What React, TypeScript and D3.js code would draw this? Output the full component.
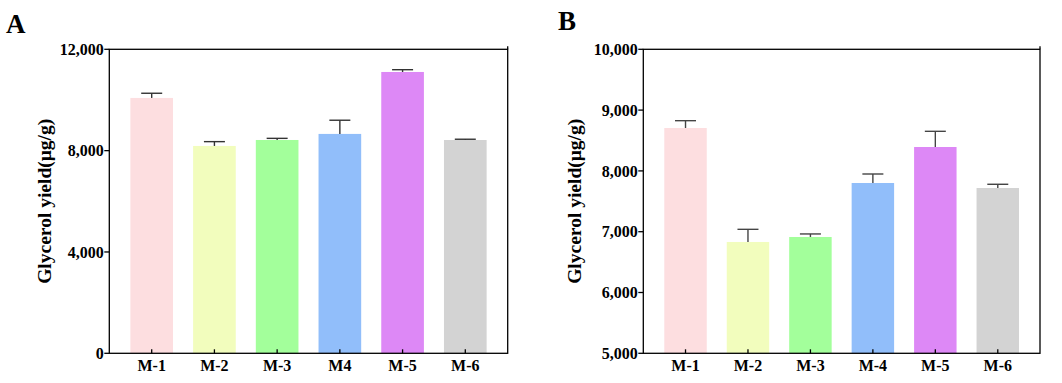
import React from "react";
import * as d3 from "d3";

const categoriesA = ["M-1", "M-2", "M-3", "M4", "M-5", "M-6"];
const valuesA = [10080, 8185, 8420, 8660, 11105, 8420];
const errorsA = [185, 170, 65, 540, 90, 30];
const ticksA = [0, 4000, 8000, 12000];

const categoriesB = ["M-1", "M-2", "M-3", "M-4", "M-5", "M-6"];
const valuesB = [8706, 6831, 6913, 7801, 8393, 7719];
const errorsB = [120, 208, 50, 148, 258, 61];
const ticksB = [5000, 6000, 7000, 8000, 9000, 10000];

const colors = ["#FDDEE0", "#F2FDBD", "#A3FF9B", "#91BEFA", "#DD88F6", "#D3D3D3"];

const FONT = "'Liberation Serif', 'Times New Roman', serif";
const fmt = d3.format(",");

type PanelProps = {
  left: number;
  right: number;
  top: number;
  bottom: number;
  domain: [number, number];
  cats: string[];
  vals: number[];
  errs: number[];
  ticks: number[];
  label: string;
  labelX: number;
  labelY: number;
  titleX: number;
  errColor: string;
};

function Panel(p: PanelProps) {
  const y = d3.scaleLinear().domain(p.domain).range([p.bottom, p.top]);
  const x = d3.scalePoint<string>().domain(p.cats).range([p.left, p.right]).padding(0.676);
  const step = x.step();
  const bw = step * 0.68;
  const capW = 21;
  return (
    <g>
      <text x={p.labelX} y={p.labelY} fontFamily={FONT} fontWeight="bold" fontSize={27}>
        {p.label}
      </text>
      {p.cats.map((c, i) => {
        const cx = x(c)!;
        const yTop = y(p.vals[i]);
        const yErr = y(p.vals[i] + p.errs[i]);
        return (
          <g key={c}>
            <rect x={cx - bw / 2} y={yTop} width={bw} height={p.bottom - yTop} fill={colors[i]} />
            <line x1={cx} x2={cx} y1={yTop} y2={yErr} stroke={p.errColor} strokeWidth={1.4} />
            <line x1={cx - capW / 2} x2={cx + capW / 2} y1={yErr} y2={yErr} stroke={p.errColor} strokeWidth={1.4} />
          </g>
        );
      })}
      <rect x={p.left} y={p.top} width={p.right - p.left} height={p.bottom - p.top} fill="none" stroke="#000" strokeWidth={1.3} />
      <line x1={p.right} x2={p.right} y1={p.top - 3} y2={p.top} stroke="#000" strokeWidth={1.3} />
      {p.ticks.map((t) => (
        <g key={t}>
          <line x1={p.left - 5} x2={p.left} y1={y(t)} y2={y(t)} stroke="#000" strokeWidth={1.3} />
          <text
            x={p.left - 5.5}
            y={y(t)}
            dy="0.35em"
            textAnchor="end"
            fontFamily={FONT}
            fontWeight="bold"
            fontSize={16}
          >
            {fmt(t)}
          </text>
        </g>
      ))}
      {p.cats.map((c) => (
        <g key={"x" + c}>
          <line x1={x(c)} x2={x(c)} y1={p.bottom} y2={p.bottom - 4} stroke="#000" strokeWidth={1.3} />
          <text x={x(c)} y={p.bottom + 18} textAnchor="middle" fontFamily={FONT} fontWeight="bold" fontSize={16}>
            {c}
          </text>
        </g>
      ))}
      <text
        transform={`translate(${p.titleX},${(p.top + p.bottom) / 2}) rotate(-90)`}
        textAnchor="middle"
        fontFamily={FONT}
        fontWeight="bold"
        fontSize={19.5}
      >
        Glycerol yield(μg/g)
      </text>
    </g>
  );
}

export default function App() {
  return (
    <svg width={1062} height={383} style={{ position: "absolute", left: 0, top: 0, background: "#fff" }}>
      <Panel
        left={109.3}
        right={507.7}
        top={49.3}
        bottom={353.3}
        domain={[0, 12000]}
        cats={categoriesA}
        vals={valuesA}
        errs={errorsA}
        ticks={ticksA}
        label="A"
        labelX={6}
        labelY={33}
        titleX={51}
        errColor="#333"
      />
      <Panel
        left={643.3}
        right={1040}
        top={49.3}
        bottom={353.3}
        domain={[5000, 10000]}
        cats={categoriesB}
        vals={valuesB}
        errs={errorsB}
        ticks={ticksB}
        label="B"
        labelX={558}
        labelY={30}
        titleX={581}
        errColor="#444"
      />
    </svg>
  );
}
